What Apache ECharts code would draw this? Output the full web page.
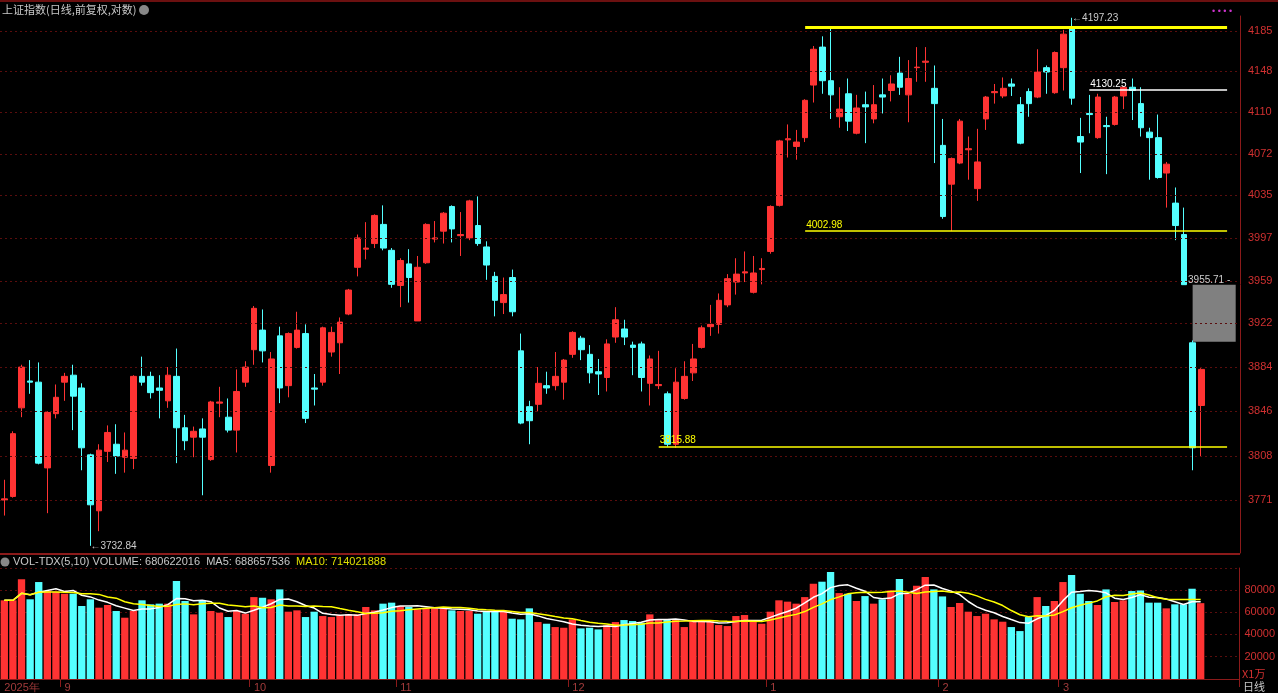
<!DOCTYPE html>
<html><head><meta charset="utf-8">
<script src="https://cdn.jsdelivr.net/npm/echarts@6/dist/echarts.min.js"></script>
<style>html,body{margin:0;padding:0;background:#000;}#c{width:1278px;height:693px;}</style>
</head><body><div id="c"></div>
<script>
const opens  = [3771,3774,3849,3872,3871,3798,3844,3871,3877,3866,3809,3762,3812,3818,3807,3806,3876,3876,3866,3855,3876,3832,3824,3831,3805,3853,3841,3830,3871,3899,3916,3800,3911,3868,3901,3913,3866,3871,3897,3905,3930,3971,3987,3992,4009,3986,3955,3974,3924,3975,3996,4003,4025,3999,3997,4008,3989,3963,3940,3962,3898,3850,3852,3868,3868,3871,3895,3909,3895,3880,3875,3910,3917,3903,3904,3870,3868,3861,3818,3857,3879,3901,3919,3921,3938,3958,3966,3949,3969,3985,4026,4085,4079,4087,4135,4170,4139,4106,4127,4091,4117,4104,4126,4130,4146,4126,4151,4156,4132,4080,4045,4064,4076,4041,4104,4128,4125,4136,4117,4129,4124,4151,4128,4151,4188,4088,4109,4087,4098,4099,4125,4133,4118,4092,4087,4055,4028,4000,3905,3851];
const closes = [3772,3827,3884,3871,3802,3845,3858,3876,3859,3815,3767,3813,3828,3808,3813,3876,3871,3862,3864,3877,3832,3821,3829,3824,3854,3854,3830,3863,3884,3935,3898,3891,3866,3913,3916,3840,3865,3918,3914,3923,3951,3997,3988,4017,3988,3956,3977,3962,3971,4009,3997,4019,4005,4000,4030,3992,3973,3942,3947,3932,3836,3838,3870,3866,3876,3890,3914,3899,3879,3878,3904,3925,3910,3901,3875,3891,3869,3818,3871,3876,3891,3918,3921,3942,3961,3965,3967,3966,3970,4025,4084,4086,4083,4121,4168,4139,4126,4113,4102,4114,4115,4117,4124,4136,4133,4141,4151.5,4157,4118,4016,4068,4102,4077,4065,4124,4129,4132,4134,4082,4118,4147,4147,4165,4182,4123,4083,4108,4124,4097,4124,4133,4130,4096,4087,4051,4063,4008,3955.71,3815,3882];
const lows   = [3758,3773,3841,3861,3801,3760,3840,3855,3830,3796,3732.84,3745,3803,3793,3794,3797,3868,3857,3840,3849,3802,3813,3807,3775,3804,3841,3828,3811,3867,3886,3888,3794,3853,3858,3900,3836,3851,3868,3893,3878,3929,3963,3978,3988,3986,3953,3936,3940,3924,3974,3993,3992,3993,3981,3995,3990,3960,3928,3930,3928,3835,3818,3846,3861,3864,3856,3892,3890,3870,3860,3863,3905,3903,3877,3863,3851,3865,3815.88,3815,3856,3872,3900,3911,3913,3936,3947,3958,3948,3956,3983,4025,4069,4067,4083,4119,4127,4104,4096,4093,4090,4082,4100,4109,4120,4126,4101,4138,4138,4064,4014,4002.98,4063,4049,4030,4094,4118,4123,4125,4081,4106,4123,4127,4127,4130,4117,4055,4091,4086,4054,4098,4113,4103,4088,4049,4050,4024,3995,3955.71,3796,3808];
const highs  = [3788,3829,3886,3890,3888,3846,3869,3879,3886,3870,3810,3818,3834,3835,3828,3877,3893,3880,3877,3884,3900,3843,3833,3840,3855,3867,3857,3882,3889,3937,3934,3897,3919,3914,3932,3921,3878,3919,3919,3927,3952,4000,4011,4018,4026,3988,3979,3987,3981,4010,4012,4020,4026,4020,4031,4034,3994,3967,3962,3969,3913,3855,3884,3880,3897,3891,3915,3911,3903,3891,3908,3936,3925,3906,3906,3894,3898,3863,3883,3889,3904,3920,3938,3948,3965,3979,3985,3981,3979,4026,4085,4099,4094,4122,4171,4180,4189,4133,4141,4126,4129,4135,4141,4144,4161,4158,4170,4170,4153,4104,4069,4104,4088,4095,4125,4136,4142,4141,4124,4132,4168,4153,4166,4186,4197.23,4105,4126,4127,4106,4125,4134,4141,4133,4096,4108,4065,4042,4024,3907,3883];
// volume in units of 1万
const volumes = [70.6,70.6,89.4,71.5,87.0,78.9,78.3,76.5,76.5,65.5,71.5,64.0,66.4,61.0,55.0,61.0,70.6,67.0,67.6,67.6,87.9,70.0,58.0,70.0,61.0,59.5,55.6,61.0,58.6,73.5,72.9,71.5,80.4,60.4,61.6,55.6,60.4,56.5,55.6,57.4,58.0,58.0,64.6,61.6,67.6,68.5,65.5,64.6,62.5,63.4,63.4,63.4,61.6,61.0,61.0,58.6,61.0,61.0,61.0,54.1,53.5,63.4,51.1,49.6,46.6,46.0,53.5,45.4,46.0,44.5,48.4,51.1,52.9,52.0,50.5,58.0,53.5,53.5,53.5,46.6,51.4,52.6,52.6,48.4,47.5,56.5,57.4,52.6,49.6,60.4,70.6,69.4,67.6,73.5,85.5,87.3,96.0,77.1,76.5,70.0,74.4,67.6,71.5,79.5,89.7,76.5,83.7,91.5,80.4,74.1,64.6,68.2,60.4,56.5,58.6,53.5,51.4,46.6,43.0,55.6,73.5,65.5,70.0,87.0,93.3,76.5,70.0,66.4,80.4,69.1,70.6,78.9,79.5,68.5,68.5,63.4,67.0,67.0,81.0,68.06];
const monthLabels = {0:'2025年',7:'9',29:'10',46:'11',66:'12',89:'1',109:'2',123:'3'};
const priceTicks = [4185,4148,4110,4072,4035,3997,3959,3922,3884,3846,3808,3771];

const N = 144;
const cats = [];
for (let i=0;i<N;i++) cats.push(monthLabels[i]!==undefined?monthLabels[i]:'');
const kdata = opens.map((o,i)=>[o,closes[i],lows[i],highs[i]]);
const RED='#ff3333', CYAN='#54ffff';
const vbars = volumes.map((v,i)=>({value:v*1000,itemStyle:{color:closes[i]>=opens[i]?RED:CYAN}}));
function ma(n){return volumes.map((v,i)=>{const s=volumes.slice(Math.max(0,i-n+1),i+1);return s.reduce((a,b)=>a+b,0)/s.length*1000;});}

const chart = echarts.init(document.getElementById('c'));
const gridLS = {color:'#5a0d0d',type:[2,3],width:1};
chart.setOption({
  backgroundColor:'#000',
  animation:false,
  grid:[{left:0,right:38,top:16,height:537},{left:0,right:38,top:568,height:111}],
  xAxis:[
    {type:'category',data:cats,gridIndex:0,boundaryGap:true,axisLine:{show:false},axisTick:{show:false},axisLabel:{show:false},splitLine:{show:false}},
    {type:'category',data:cats,gridIndex:1,boundaryGap:true,axisLine:{show:true,lineStyle:{color:'#8b1a1a'}},
     axisTick:{show:true,interval:(i)=>monthLabels[i]!==undefined&&i>0,length:8,lineStyle:{color:'#8b1a1a'}},
     axisLabel:{show:true,interval:0,color:'#a23b3b',fontSize:11,fontFamily:'Liberation Sans',align:'left',margin:3},
     splitLine:{show:false}}
  ],
  yAxis:[
    {type:'log',logBase:10,gridIndex:0,position:'right',min:3726.9,max:4198.9,
     axisLine:{show:true,lineStyle:{color:'#8b1a1a'}},axisTick:{show:false},
     axisLabel:{customValues:priceTicks,formatter:v=>String(Math.round(v)),color:'#d03030',fontSize:11,fontFamily:'Liberation Sans',margin:8},
     splitLine:{show:false}},
    {type:'value',gridIndex:1,position:'right',min:0,max:99600,interval:20000,
     axisLine:{show:true,lineStyle:{color:'#8b1a1a'}},axisTick:{show:false},
     axisLabel:{showMinLabel:false,showMaxLabel:false,formatter:v=>String(v),color:'#d03030',fontSize:11,fontFamily:'Liberation Sans',margin:5},
     splitLine:{show:true,lineStyle:gridLS}}
  ],
  series:[
    {type:'line',xAxisIndex:0,yAxisIndex:0,data:[],silent:true,z:0,
     markLine:{symbol:'none',silent:true,label:{show:false},lineStyle:gridLS,data:priceTicks.map(v=>({yAxis:v}))}},
    {type:'candlestick',xAxisIndex:0,yAxisIndex:0,data:kdata,barWidth:'72%',z:3,
     itemStyle:{color:RED,color0:CYAN,borderColor:RED,borderColor0:CYAN,borderWidth:1},
     markLine:{symbol:'none',silent:true,label:{show:false},
       data:[
         [{coord:[93,4188.7],lineStyle:{color:'#ffff00',width:3,type:'solid'}},{coord:[142,4188.7]}],
         [{coord:[126,4130.25],lineStyle:{color:'#ffffff',width:1.5,type:'solid'},label:{show:true,position:'insideStartTop',formatter:'4130.25',color:'#ffffff',fontSize:10,distance:1}},{coord:[142,4130.25]}],
         [{coord:[93,4002.98],lineStyle:{color:'#ffff00',width:1.5,type:'solid'},label:{show:true,position:'insideStartTop',formatter:'4002.98',color:'#ffff00',fontSize:10,distance:1}},{coord:[142,4002.98]}],
         [{coord:[76,3815.88],lineStyle:{color:'#ffff00',width:1.5,type:'solid'},label:{show:true,position:'insideStartTop',formatter:'3815.88',color:'#ffff00',fontSize:10,distance:1}},{coord:[142,3815.88]}]
       ]},
     markPoint:{symbol:'circle',symbolSize:0,silent:true,
       data:[
         {coord:[124,4197.23],label:{show:true,position:'right',formatter:'←4197.23',color:'#cccccc',fontSize:10,distance:0}},
         {coord:[10,3732.84],label:{show:true,position:'right',formatter:'←3732.84',color:'#cccccc',fontSize:10,distance:0,offset:[0,0]}},
         {coord:[137,3955.71],label:{show:true,position:'right',formatter:'3955.71 -',color:'#cccccc',fontSize:10,distance:4,offset:[0,-4]}}
       ]},
     markArea:{silent:true,itemStyle:{color:'#808080'},data:[[{xAxis:138,yAxis:3955.7},{xAxis:143,yAxis:3906}]]}
    },
    {type:'bar',xAxisIndex:1,yAxisIndex:1,data:vbars,barWidth:'85%',z:2},
    {type:'line',xAxisIndex:1,yAxisIndex:1,data:ma(5),symbol:'none',z:4,lineStyle:{color:'#ffffff',width:1.5}},
    {type:'line',xAxisIndex:1,yAxisIndex:1,data:ma(10),symbol:'none',z:4,lineStyle:{color:'#ffff00',width:1.5}}
  ],
  graphic:[
    {type:'rect',shape:{x:0,y:0,width:1278,height:2},style:{fill:'#6b1010'}},
    {type:'rect',shape:{x:0,y:553,width:1240,height:2},style:{fill:'#8b1a1a'}},
    {type:'text',x:2,y:4,style:{text:'上证指数(日线,前复权,对数)',fill:'#c8c8c8',font:'11px "Noto Sans CJK SC"'}},
    {type:'circle',shape:{cx:144,cy:10,r:5},style:{fill:'#888'}},
    {type:'text',x:1212,y:7,style:{text:'• • • •',fill:'#cc33cc',font:'9px sans-serif'}},
    {type:'circle',shape:{cx:5,cy:562,r:4.5},style:{fill:'#888'}},
    {type:'text',x:13,y:556,style:{rich:{a:{fill:'#c8c8c8',font:'11px "Liberation Sans"'},b:{fill:'#e0e000',font:'11px "Liberation Sans"'}},
      text:'{a|VOL-TDX(5,10) VOLUME: 680622016  MA5: 688657536  }{b|MA10: 714021888}'}},
    {type:'text',x:1242,y:668,style:{text:'X1万',fill:'#d03030',font:'11px "Noto Sans CJK SC"'}},
    {type:'text',x:1243,y:681,style:{text:'日线',fill:'#c8c8c8',font:'11px "Noto Sans CJK SC"'}}
  ]
});
</script></body></html>
